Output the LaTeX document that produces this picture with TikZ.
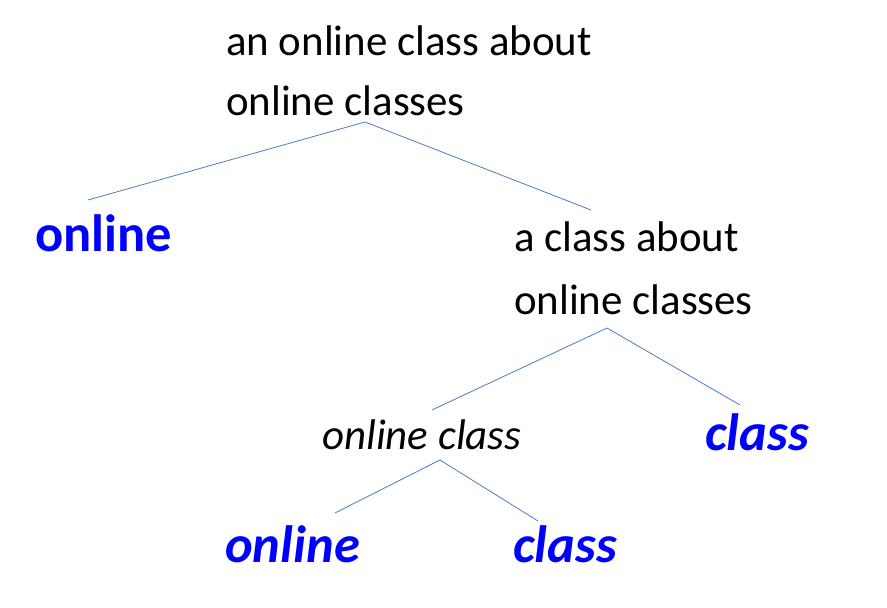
\documentclass[tikz,border=0pt]{standalone}
\usepackage{fontspec}
\setmainfont{Carlito}
\begin{document}
\begin{tikzpicture}[x=1pt,y=-1pt,
  txt/.style={anchor=base west,inner sep=0pt,font=\fontsize{42.9}{50}\selectfont},
  itxt/.style={txt,font=\fontsize{42.9}{50}\selectfont\itshape},
  leaf/.style={anchor=base west,inner sep=0pt,text={rgb,255:red,0;green,0;blue,255},font=\fontsize{52.5}{60}\selectfont\bfseries},
  ileaf/.style={leaf,font=\fontsize{52.5}{60}\selectfont\bfseries\itshape},
  edge/.style={draw={rgb,255:red,74;green,126;blue,187},line width=0.8pt}]
\useasboundingbox (0,0) rectangle (887,608);
\node[txt] (r1) at (226,55) {an online class about};
\node[txt] (r2) at (226,115) {online classes};
\node[leaf] (l1) at (35,251) {online};
\node[txt] (n1) at (514,251) {a class about};
\node[txt] (n2) at (514,314) {online classes};
\node[itxt] (m) at (322,449) {online class};
\node[ileaf] (c1) at (705,450) {class};
\node[ileaf] (l2) at (225,562) {online};
\node[ileaf] (c2) at (513,562) {class};
\coordinate (a0) at (365,122);
\coordinate (a1) at (88,200);
\coordinate (a2) at (591,210);
\coordinate (b0) at (607,328);
\coordinate (b1) at (432,410);
\coordinate (b2) at (740,405);
\coordinate (d0) at (440,460);
\coordinate (d1) at (335,513);
\coordinate (d2) at (538,521);
\draw[edge] (a1) -- (a0) -- (a2);
\draw[edge] (b1) -- (b0) -- (b2);
\draw[edge] (d1) -- (d0) -- (d2);
\end{tikzpicture}
\end{document}
